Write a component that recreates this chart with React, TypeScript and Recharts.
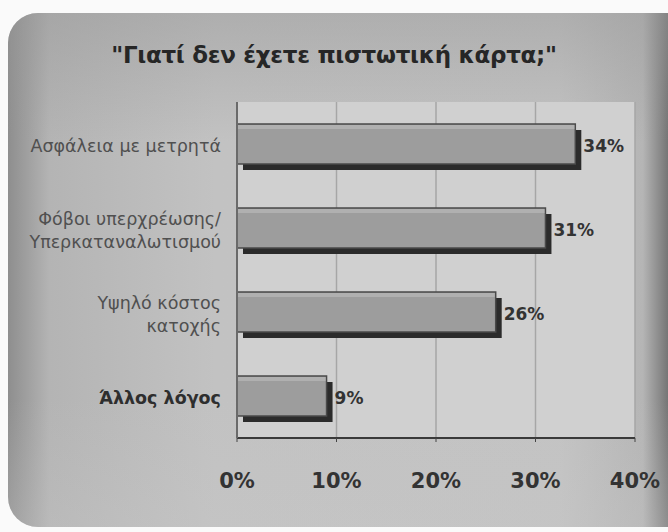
import React from "react";
import { BarChart, Bar, XAxis, YAxis, CartesianGrid, LabelList } from "recharts";

const reasons = [
  "Ασφάλεια με μετρητά",
  "Φόβοι υπερχρέωσης/\nΥπερκαταναλωτισμού",
  "Υψηλό κόστος\nκατοχής",
  "Άλλος λόγος",
];
const shares = [34, 31, 26, 9];
const xTicks = [0, 10, 20, 30, 40];
const title = "\"Γιατί δεν έχετε πιστωτική κάρτα;\"";

const data = reasons.map((reason, i) => ({ reason, share: shares[i] }));

const FONT = "'DejaVu Sans', 'Liberation Sans', Arial, sans-serif";

function ShadowBar(props: any) {
  const { x, y, width, height } = props;
  if (!width || width <= 0) return null;
  return (
    <g>
      <rect x={x + 6} y={y + 6} width={width} height={height} fill="#2b2b2b" />
      <rect x={x} y={y} width={width} height={height} fill="#9d9d9d" stroke="#4a4a4a" strokeWidth={1.5} />
      <rect x={x + 1} y={y + 1} width={Math.max(width - 2, 0)} height={4} fill="#b0b0b0" />
    </g>
  );
}

function CategoryTick(props: any) {
  const { x, y, payload } = props;
  const lines = String(payload.value).split("\n");
  const lh = 23;
  const start = y + 2 - ((lines.length - 1) * lh) / 2;
  const last = payload.value === reasons[3];
  return (
    <text
      x={x - 8}
      y={start}
      textAnchor="end"
      dominantBaseline="central"
      fontFamily={FONT}
      fontSize={17.5}
      fontWeight={last ? 700 : 400}
      fill={last ? "#2e2e2e" : "#505050"}
    >
      {lines.map((l, i) => (
        <tspan key={i} x={x - 8} y={start + i * lh}>
          {l}
        </tspan>
      ))}
    </text>
  );
}

function PercentTick(props: any) {
  const { x, y, payload } = props;
  return (
    <text
      x={x}
      y={y + 44}
      textAnchor="middle"
      fontFamily={FONT}
      fontSize={21}
      fontWeight={700}
      fill="#333"
    >
      {`${payload.value}%`}
    </text>
  );
}

function ValueLabel(props: any) {
  const { x, y, width, height, value } = props;
  return (
    <text
      x={x + width + 8}
      y={y + height / 2 + 2}
      dominantBaseline="central"
      fontFamily={FONT}
      fontSize={17}
      fontWeight={700}
      fill="#333"
    >
      {`${value}%`}
    </text>
  );
}

export default function App() {
  return (
    <div
      style={{
        position: "absolute",
        left: 0,
        top: 0,
        width: 668,
        height: 532,
        background: "#fafafa",
        overflow: "hidden",
      }}
    >
      <div
        style={{
          position: "absolute",
          left: 8,
          top: 13,
          width: 690,
          height: 514,
          borderRadius: 30,
          background:
            "linear-gradient(90deg, #8e8e8e 0%, #b4b4b4 6%, #c2c2c2 30%, #c3c3c3 80%, #b5b5b5 92%, #6f6f6f 96%, #4c4c4c 100%)",
        }}
      />
      <div
        style={{
          position: "absolute",
          left: 8,
          top: 13,
          width: 690,
          height: 514,
          borderRadius: 30,
          background:
            "linear-gradient(180deg, rgba(150,150,150,0.45) 0%, rgba(190,190,190,0) 25%, rgba(190,190,190,0) 75%, rgba(200,200,200,0.3) 100%)",
        }}
      />
      <div
        style={{
          position: "absolute",
          left: 0,
          top: 42,
          width: 668,
          textAlign: "center",
          fontFamily: FONT,
          fontSize: 23,
          fontWeight: 700,
          color: "#262626",
          letterSpacing: -0.3,
        }}
      >
        {title}
      </div>
      <div style={{ position: "absolute", left: 0, top: 0 }}>
        <BarChart
          width={668}
          height={532}
          data={data}
          layout="vertical"
          margin={{ top: 102, right: 33, bottom: 44, left: 17 }}
          barCategoryGap={22}
        >
          <CartesianGrid
            horizontal={false}
            stroke="#a6a6a6"
            strokeWidth={1.5}
            fill="#d0d0d0"
          />
          <XAxis
            type="number"
            dataKey="share"
            domain={[0, 40]}
            ticks={xTicks}
            height={50}
            tickLine={{ stroke: "#444" }}
            tickSize={4}
            axisLine={{ stroke: "#3a3a3a", strokeWidth: 2 }}
            tick={<PercentTick />}
            interval={0}
          />
          <YAxis
            type="category"
            dataKey="reason"
            width={220}
            tickLine={false}
            axisLine={{ stroke: "#6a6a6a", strokeWidth: 2 }}
            tick={<CategoryTick />}
            interval={0}
          />
          <Bar
            dataKey="share"
            barSize={40}
            shape={<ShadowBar />}
            isAnimationActive={false}
          >
            <LabelList dataKey="share" content={<ValueLabel />} />
          </Bar>
        </BarChart>
      </div>
    </div>
  );
}
